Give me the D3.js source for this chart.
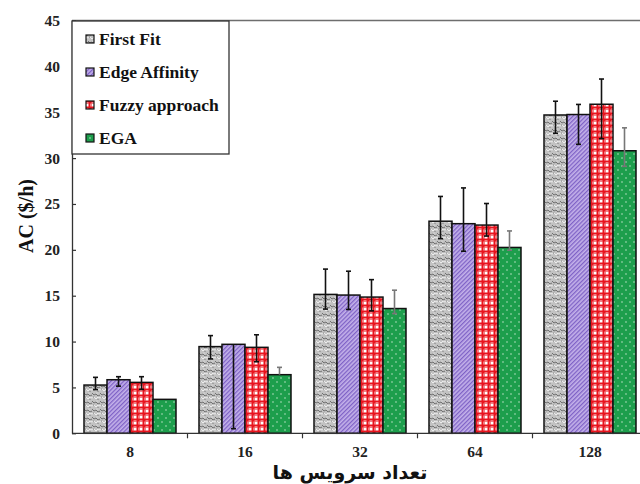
<!DOCTYPE html>
<html><head><meta charset="utf-8">
<script src="https://cdn.jsdelivr.net/npm/d3@7"></script>
<style>
html,body{margin:0;padding:0;background:#fff;}
svg{display:block;font-family:"Liberation Serif","Times New Roman",serif;}
</style></head>
<body>
<svg id="chart" width="640" height="484"></svg>
<script>
const categories = ["8", "16", "32", "64", "128"];
const seriesNames = ["First Fit", "Edge Affinity", "Fuzzy approach", "EGA"];
const firstFit      = [5.26, 9.45, 15.14, 23.12, 34.7];
const edgeAffinity  = [5.84, 9.7, 15.07, 22.85, 34.75];
const fuzzyApproach = [5.55, 9.37, 14.85, 22.7, 35.87];
const ega           = [3.7, 6.39, 13.6, 20.26, 30.8];
const errUpFirstFit  = [0.84, 1.2, 2.76, 2.7, 1.5];
const errDnFirstFit  = [0.5, 1.34, 1.6, 1.9, 2.0];
const errUpEdge      = [0.33, 0.0, 2.6, 3.9, 1.1];
const errDnEdge      = [0.7, 9.2, 1.57, 3.0, 3.25];
const errUpFuzzy     = [0.62, 1.37, 1.9, 2.35, 2.75];
const errDnFuzzy     = [0.76, 1.57, 1.5, 1.2, 3.75];
const errUpEga       = [0.0, 0.8, 2.0, 1.8, 2.5];
const errDnEga       = [0.0, 0.0, 0.55, 0.3, 1.7];
const yTicks = [0, 5, 10, 15, 20, 25, 30, 35, 40, 45];
const yTitle = "AC ($/h)";
const xTitle = "تعداد سرویس ها";

const values = [firstFit, edgeAffinity, fuzzyApproach, ega];
const errUp = [errUpFirstFit, errUpEdge, errUpFuzzy, errUpEga];
const errDn = [errDnFirstFit, errDnEdge, errDnFuzzy, errDnEga];
const patternIds = ["pFirst", "pEdge", "pFuzzy", "pEga"];
const errColors = ["#111", "#111", "#111", "#777"];

const svg = d3.select("#chart");
const defs = svg.append("defs");

// First Fit: grey textured
let p = defs.append("pattern").attr("id","pFirst").attr("patternUnits","userSpaceOnUse").attr("width",8).attr("height",8);
p.append("rect").attr("width",8).attr("height",8).attr("fill","#c2c2c2");
p.append("path").attr("d","M0,1 l2,2 l2,-1 l2,2 l2,-1").attr("fill","none").attr("stroke","#5a5a5a").attr("stroke-width",0.8);
p.append("path").attr("d","M0,6 l2,-1 l2,2 l2,-2 l2,1").attr("fill","none").attr("stroke","#f2f2f2").attr("stroke-width",0.9);
p.append("circle").attr("cx",1.5).attr("cy",5).attr("r",0.6).attr("fill","#666");
p.append("circle").attr("cx",6).attr("cy",7.5).attr("r",0.6).attr("fill","#777");
p.append("circle").attr("cx",5).attr("cy",1).attr("r",0.6).attr("fill","#eee");

// Edge Affinity: lavender diagonal stripes
p = defs.append("pattern").attr("id","pEdge").attr("patternUnits","userSpaceOnUse").attr("width",3).attr("height",3).attr("patternTransform","rotate(45)");
p.append("rect").attr("width",3).attr("height",3).attr("fill","#c4b2ea");
p.append("rect").attr("width",1.3).attr("height",3).attr("fill","#7f62c6");

// Fuzzy approach: red gingham
p = defs.append("pattern").attr("id","pFuzzy").attr("patternUnits","userSpaceOnUse").attr("width",6).attr("height",6);
p.append("rect").attr("width",6).attr("height",6).attr("fill","#e8141e");
p.append("rect").attr("x",1.5).attr("y",1.5).attr("width",3).attr("height",3).attr("fill","#ffffff");
p.append("rect").attr("x",1.5).attr("y",0).attr("width",3).attr("height",1.5).attr("fill","#f27a80");
p.append("rect").attr("x",0).attr("y",1.5).attr("width",1.5).attr("height",3).attr("fill","#f27a80");

// EGA: green with white dots
p = defs.append("pattern").attr("id","pEga").attr("patternUnits","userSpaceOnUse").attr("width",8).attr("height",8);
p.append("rect").attr("width",8).attr("height",8).attr("fill","#1d9e4c");
p.append("circle").attr("cx",2).attr("cy",2).attr("r",0.7).attr("fill","#d8f0dc");
p.append("circle").attr("cx",6).attr("cy",6).attr("r",0.7).attr("fill","#d8f0dc");

const x0 = d3.scaleBand().domain(categories).range([72.5, 647.5]).paddingInner(0.2).paddingOuter(0.1);
const x1 = d3.scaleBand().domain(seriesNames).range([0, x0.bandwidth()]);
const y = d3.scaleLinear().domain([0, 45]).range([433.3, 20.5]);

// top border of plot area
svg.append("line").attr("x1",72).attr("x2",640).attr("y1",y(45)).attr("y2",y(45))
  .attr("stroke","#6e6e6e").attr("stroke-width",1.5);

// bars
const groups = svg.append("g").selectAll("g").data(categories).join("g")
  .attr("transform", d => `translate(${x0(d)},0)`);
seriesNames.forEach((s, si) => {
  groups.append("rect")
    .attr("x", x1(s)).attr("width", x1.bandwidth())
    .attr("y", (d, ci) => y(values[si][ci]))
    .attr("height", (d, ci) => y(0) - y(values[si][ci]))
    .attr("fill", `url(#${patternIds[si]})`)
    .attr("stroke", "#111").attr("stroke-width", 1.5);
});
// error bars
seriesNames.forEach((s, si) => {
  categories.forEach((c, ci) => {
    const up = errUp[si][ci], dn = errDn[si][ci];
    if (up === 0 && dn === 0) return;
    const cx = x0(c) + x1(s) + x1.bandwidth() / 2;
    const v = values[si][ci];
    const yt = y(v + up), yb = y(v - dn);
    const g = svg.append("g").attr("stroke", errColors[si]).attr("stroke-width", 1.6);
    g.append("line").attr("x1",cx).attr("x2",cx).attr("y1",yt).attr("y2",yb);
    if (up > 0) g.append("line").attr("x1",cx-2.5).attr("x2",cx+2.5).attr("y1",yt).attr("y2",yt);
    if (dn > 0) g.append("line").attr("x1",cx-2.5).attr("x2",cx+2.5).attr("y1",yb).attr("y2",yb);
  });
});

// y axis
const yAxis = svg.append("g").attr("transform","translate(72,0)")
  .call(d3.axisLeft(y).tickValues(yTicks).tickSizeInner(-4).tickSizeOuter(0).tickPadding(12));
yAxis.select(".domain").attr("stroke","#333").attr("stroke-width",1.3);
yAxis.selectAll(".tick line").attr("stroke","#333").attr("stroke-width",1.2);
yAxis.selectAll("text").attr("font-family","Liberation Serif, serif").attr("font-weight","bold")
  .attr("font-size",15.5).attr("fill","#222");

// x axis
const xAxis = svg.append("g").attr("transform",`translate(0,${y(0)})`)
  .call(d3.axisBottom(x0).tickSize(0).tickPadding(13));
xAxis.select(".domain").attr("stroke","#333").attr("stroke-width",1.3).attr("d","M72,0H640");
xAxis.selectAll("text").attr("font-family","Liberation Serif, serif").attr("font-weight","bold")
  .attr("font-size",15.5).attr("fill","#222");
// boundary ticks between groups
const boundaries = categories.slice(0, -1).map(c => x0(c) + x0.bandwidth() + x0.step() * x0.paddingInner() / 2);
xAxis.selectAll(".bt").data(boundaries).join("line").attr("class","bt")
  .attr("x1", d => d).attr("x2", d => d).attr("y1", 0).attr("y2", 5)
  .attr("stroke","#333").attr("stroke-width",1.2);

// axis titles
svg.append("text").attr("transform","translate(33,216) rotate(-90)")
  .attr("text-anchor","middle").attr("font-weight","bold").attr("font-size",20)
  .attr("fill","#111").text(yTitle);
svg.append("text").attr("x",350).attr("y",479).attr("text-anchor","middle")
  .attr("font-family","'DejaVu Sans', sans-serif").attr("font-weight","bold").attr("font-size",19)
  .attr("fill","#111").attr("direction","rtl").text(xTitle);

// legend
const lg = svg.append("g");
lg.append("rect").attr("x",72).attr("y",21).attr("width",157).attr("height",133)
  .attr("fill","#fff").attr("stroke","#333").attr("stroke-width",1.3);
seriesNames.forEach((s, si) => {
  const cy = 39 + si * 33;
  lg.append("rect").attr("x",86).attr("y",cy-4).attr("width",8).attr("height",8)
    .attr("fill",`url(#${patternIds[si]})`).attr("stroke","#111").attr("stroke-width",1.2);
  lg.append("text").attr("x",99).attr("y",cy+5.5).attr("font-weight","bold")
    .attr("font-size",17.5).attr("fill","#111").text(s);
});
</script>
</body></html>
